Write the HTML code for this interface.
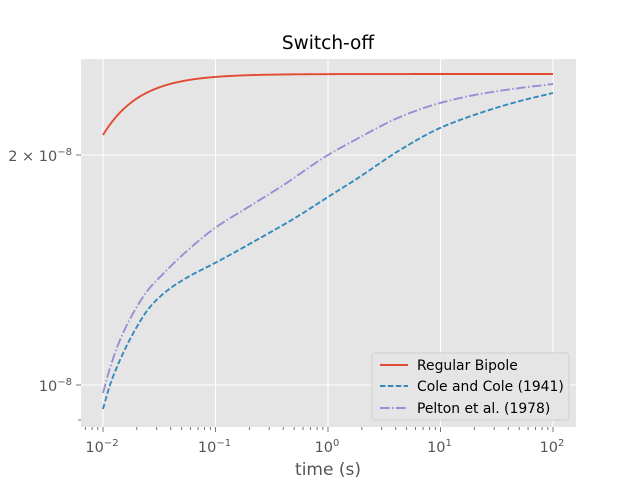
<!DOCTYPE html>
<html><head><meta charset="utf-8"><style>
body{margin:0;background:#fff;}
svg{display:block;font-family:"DejaVu Sans","Liberation Sans",sans-serif;}
</style></head><body>
<svg id="s" width="640" height="480" viewBox="0 0 640 480">
<rect x="0" y="0" width="640" height="480" fill="#fff"/>
<rect x="81" y="59" width="495" height="368" fill="#e5e5e5"/>
<g id="grid" stroke="#fff" stroke-width="1"></g>
<g id="ticks" stroke="#555" stroke-width="0.8"></g>
<g id="lbl" fill="#555" font-size="14.5"></g>
<g id="curves" fill="none" stroke-width="1.9"></g>
<text x="328" y="49" text-anchor="middle" font-size="18.5" fill="#000">Switch-off</text>
<text x="328" y="475" text-anchor="middle" font-size="17" fill="#555">time (s)</text>
<g>
<rect x="372" y="353" width="197" height="67" rx="3" fill="#e5e5e5" stroke="#ccc" stroke-width="1" opacity="0.9"/>
<line x1="380" y1="365" x2="408" y2="365" stroke="#e24a33" stroke-width="1.9"/>
<line x1="380" y1="386" x2="408" y2="386" stroke="#348abd" stroke-width="1.9" stroke-dasharray="5.5,2.4"/>
<line x1="380" y1="408" x2="408" y2="408" stroke="#988ed5" stroke-width="1.9" stroke-dasharray="9.6,2.4,1.5,2.4"/>
<text x="417" y="370" font-size="13.9" fill="#000">Regular Bipole</text>
<text x="417" y="391" font-size="13.9" fill="#000">Cole and Cole (1941)</text>
<text x="417" y="413" font-size="13.9" fill="#000">Pelton et al. (1978)</text>
</g>
</svg>
<script>
var NS="http://www.w3.org/2000/svg";
function el(p,t,a,txt){var e=document.createElementNS(NS,t);for(var k in a)e.setAttribute(k,a[k]);if(txt)e.textContent=txt;document.getElementById(p).appendChild(e);return e;}
function mono(P){var n=P.length,dl=[],m=[];for(var i=0;i<n-1;i++)dl.push((P[i+1][1]-P[i][1])/(P[i+1][0]-P[i][0]));
m[0]=dl[0];m[n-1]=dl[n-2];for(var i=1;i<n-1;i++){if(dl[i-1]*dl[i]<=0)m[i]=0;else{var w1=2*(P[i+1][0]-P[i][0])+(P[i][0]-P[i-1][0]),w2=(P[i+1][0]-P[i][0])+2*(P[i][0]-P[i-1][0]);m[i]=(w1+w2)/(w1/dl[i-1]+w2/dl[i]);}}
var out=[];for(var i=0;i<n-1;i++){var x0=P[i][0],x1=P[i+1][0],h=x1-x0;for(var x=x0;x<x1;x+=1){var t=(x-x0)/h,t2=t*t,t3=t2*t;
var y=(2*t3-3*t2+1)*P[i][1]+(t3-2*t2+t)*h*m[i]+(-2*t3+3*t2)*P[i+1][1]+(t3-t2)*h*m[i+1];out.push(x.toFixed(1)+","+y.toFixed(2));}}
out.push(P[n-1][0]+","+P[n-1][1]);return out.join(" ");}
var rp=[];for(var x=103;x<=553;x+=1)rp.push(x+","+(74+61*Math.exp(-0.027*(x-103))).toFixed(2));
el("curves","polyline",{points:rp.join(" "),stroke:"#e24a33"});
var blue=[[103,409],[110,385],[120,360],[135,330],[150,307],[168,290],[188,277],[215,263],[262,237],[295,218],[328,197],[355,180],[400,150],[440,128],[480,113],[520,101],[553,93]];
var pur=[[103,393],[110,368],[120,340],[135,310],[148,290],[162,275],[188,250],[215,228],[250,206],[282,186],[328,155],[355,140],[400,117],[440,103],[480,94],[520,88],[553,84]];
el("curves","polyline",{points:mono(blue),stroke:"#348abd","stroke-dasharray":"5.5,2.4"});
el("curves","polyline",{points:mono(pur),stroke:"#988ed5","stroke-dasharray":"9.6,2.4,1.5,2.4"});
var x0=103,dec=112.5;
for(var d=-2;d<=2;d++){var x=x0+(d+2)*dec;
 el("grid","line",{x1:x,y1:59,x2:x,y2:427});
 el("ticks","line",{x1:x,y1:427,x2:x,y2:432});
 var t=el("lbl","text",{x:x-1,y:452,"text-anchor":"middle"},"10");
 var s=document.createElementNS(NS,"tspan");s.setAttribute("dy","-6");s.setAttribute("font-size","10");
 s.textContent=(d<0?"\u2212":"")+Math.abs(d);t.appendChild(s);
}
for(var d=-3;d<=2;d++)for(var m=2;m<=9;m++){var x=x0+(d+2+Math.log10(m))*dec;if(x>81&&x<576)el("ticks","line",{x1:x,y1:427,x2:x,y2:430});}
el("grid","line",{x1:81,y1:385,x2:576,y2:385});
el("grid","line",{x1:81,y1:155,x2:576,y2:155});
el("ticks","line",{x1:76,y1:385,x2:81,y2:385});
el("ticks","line",{x1:76,y1:155,x2:81,y2:155});
el("ticks","line",{x1:78,y1:420,x2:81,y2:420});
var t=el("lbl","text",{x:72,y:391,"text-anchor":"end"},"10");
var s=document.createElementNS(NS,"tspan");s.setAttribute("dy","-6");s.setAttribute("font-size","10");s.textContent="\u22128";t.appendChild(s);
var t2=el("lbl","text",{x:72,y:161,"text-anchor":"end"},"2 \u00d7 10");
var s2=document.createElementNS(NS,"tspan");s2.setAttribute("dy","-6");s2.setAttribute("font-size","10");s2.textContent="\u22128";t2.appendChild(s2);
</script>
</body></html>
